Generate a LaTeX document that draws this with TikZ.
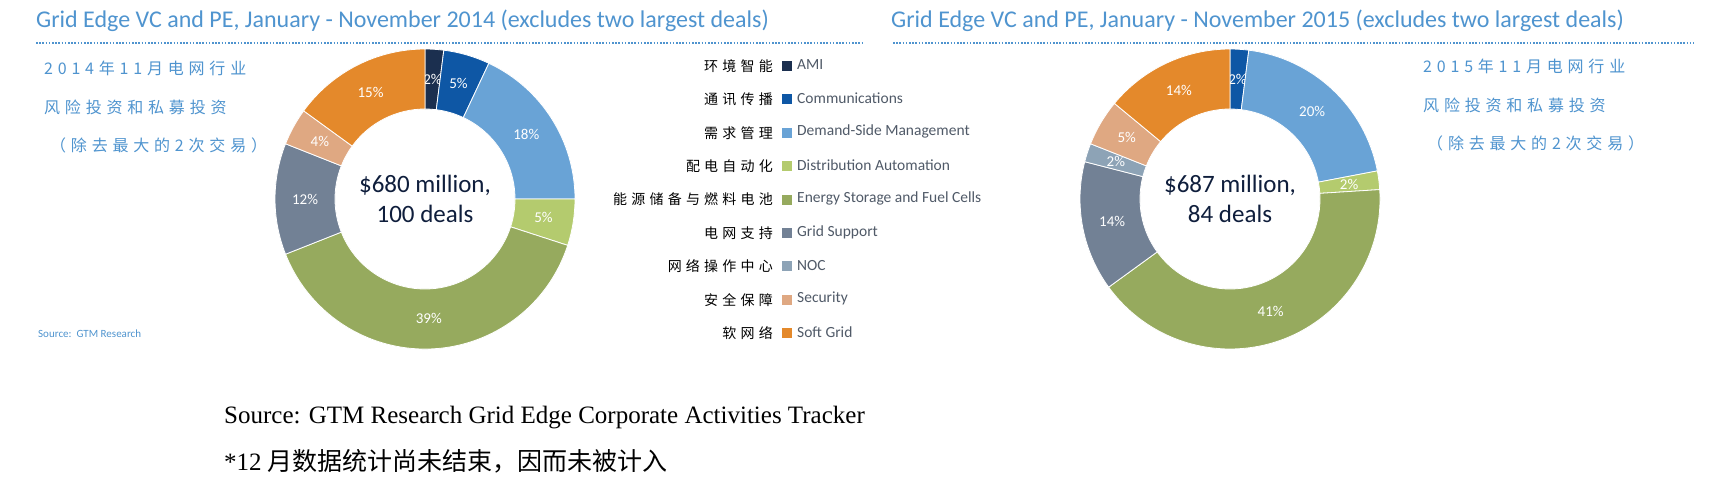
\documentclass[tikz,border=0pt]{standalone}
\usepackage{fontspec}
\setmainfont{Liberation Serif}
\newfontfamily\calfnt{Carlito}
\newfontfamily\cjk{Noto Sans CJK SC}
\newfontfamily\cjksp{Noto Sans CJK SC}[LetterSpace=30]
\usetikzlibrary{calc}
\definecolor{ttl}{HTML}{4F94CF}
\definecolor{cami}{HTML}{1B2F4F}
\definecolor{ccom}{HTML}{0E57A5}
\definecolor{cdsm}{HTML}{69A3D6}
\definecolor{cda}{HTML}{B4CB6E}
\definecolor{ces}{HTML}{96AA5E}
\definecolor{cgs}{HTML}{728195}
\definecolor{cnoc}{HTML}{8DA3B6}
\definecolor{csec}{HTML}{DFA882}
\definecolor{csoft}{HTML}{E4892B}
\definecolor{navy}{HTML}{0F1E3C}
\tikzset{
 title/.style={anchor=west,inner sep=0,text=ttl,font=\calfnt\fontsize{24}{24}\selectfont},
 dotline/.style={ttl,line width=1.6pt,dash pattern=on 1.6pt off 1.6pt},
 side/.style={anchor=west,inner sep=0,text=ttl,font=\cjksp\fontsize{16}{16}\selectfont},
 pct/.style={text=white,font=\calfnt\fontsize{15}{15}\selectfont,inner sep=0},
 ctr/.style={text=navy,font=\calfnt\fontsize{25}{30}\selectfont,align=center,inner sep=0},
 legsq/.style={minimum size=10pt,inner sep=0},
 legen/.style={anchor=west,inner sep=0,text=cgs!70!black,font=\calfnt\fontsize{15.5}{15.5}\selectfont},
 legzh/.style={anchor=east,inner sep=0,font=\cjksp\fontsize{14}{14}\selectfont},
}
\newcommand{\donutslice}[6]{% center, start, end, color, label, name
 \pgfmathsetmacro{\aa}{90-3.6*#2}\pgfmathsetmacro{\ab}{90-3.6*#3}\pgfmathsetmacro{\am}{(\aa+\ab)/2}
 \filldraw[fill=#4,draw=white,line width=0.8pt] ($(#1)+(\aa:150)$) arc[start angle=\aa,end angle=\ab,radius=150] -- ($(#1)+(\ab:90)$) arc[start angle=\ab,end angle=\aa,radius=90] -- cycle;
 \node[pct] (#6) at ($(#1)+(\am:120)$) {#5};
}
\begin{document}
\begin{tikzpicture}[x=1pt,y=1pt]
\useasboundingbox (0,0) rectangle (1716,-493);
\fill[white] (0,0) rectangle (1716,-493);
\node[title] (t1) at (36,-21) {Grid Edge VC and PE, January - November 2014 (excludes two largest deals)};
\node[title] (t2) at (891,-21) {Grid Edge VC and PE, January - November 2015 (excludes two largest deals)};
\draw[dotline] (36,-43) -- (864,-43);
\draw[dotline] (893,-43) -- (1694,-43);
% side texts
\node[side] (l1) at (44,-68) {2014年11月电网行业};
\node[side] (l2) at (44,-107) {风险投资和私募投资};
\node[side] (l3) at (50,-145) {（除去最大的2次交易）};
\node[side] (r1) at (1423,-66) {2015年11月电网行业};
\node[side] (r2) at (1423,-105) {风险投资和私募投资};
\node[side] (r3) at (1427,-143) {（除去最大的2次交易）};
\node[anchor=west,inner sep=0,text=ttl,font=\calfnt\fontsize{11}{11}\selectfont] (src) at (38,-334) {Source:\ \ GTM Research};
% donut 1
\coordinate (c1) at (425,-199);
\donutslice{c1}{0}{2}{cami}{2\%}{a1}
\donutslice{c1}{2}{7}{ccom}{5\%}{a2}
\donutslice{c1}{7}{25}{cdsm}{18\%}{a3}
\donutslice{c1}{25}{30}{cda}{5\%}{a4}
\donutslice{c1}{30}{69}{ces}{39\%}{a5}
\donutslice{c1}{69}{81}{cgs}{12\%}{a6}
\donutslice{c1}{81}{85}{csec}{4\%}{a7}
\donutslice{c1}{85}{100}{csoft}{15\%}{a8}
\node[ctr] (m1) at (c1) {\$680 million,\\100 deals};
% donut 2
\coordinate (c2) at (1230,-199);
\donutslice{c2}{0}{2}{ccom}{2\%}{b1}
\donutslice{c2}{2}{22}{cdsm}{20\%}{b2}
\donutslice{c2}{22}{24}{cda}{2\%}{b3}
\donutslice{c2}{24}{65}{ces}{41\%}{b4}
\donutslice{c2}{65}{79}{cgs}{14\%}{b5}
\donutslice{c2}{79}{81}{cnoc}{2\%}{b6}
\donutslice{c2}{81}{86}{csec}{5\%}{b7}
\donutslice{c2}{86}{100}{csoft}{14\%}{b8}
\node[ctr] (m2) at (c2) {\$687 million,\\84 deals};
% legend
\foreach \i/\col/\en/\zh in {0/cami/AMI/环境智能,1/ccom/Communications/通讯传播,2/cdsm/Demand-Side Management/需求管理,3/cda/Distribution Automation/配电自动化,4/ces/Energy Storage and Fuel Cells/能源储备与燃料电池,5/cgs/Grid Support/电网支持,6/cnoc/NOC/网络操作中心,7/csec/Security/安全保障,8/csoft/Soft Grid/软网络}{
 \node[legsq,fill=\col] (sq\i) at (787,-66-33.4*\i) {};
 \node[legen] (en\i) at (797,-65-33.4*\i) {\en};
 \node[legzh] (zh\i) at (773,-66-33.4*\i) {\zh};
}
\node[anchor=west,inner sep=0,font=\fontsize{25}{25}\selectfont] (s1) at (224,-418) {Source: GTM Research Grid Edge Corporate Activities Tracker};
\node[anchor=west,inner sep=0,font=\fontsize{25}{25}\selectfont] (s2) at (224,-461) {*12 {\cjk 月数据统计尚未结束，因而未被计入}};
\end{tikzpicture}
\end{document}
